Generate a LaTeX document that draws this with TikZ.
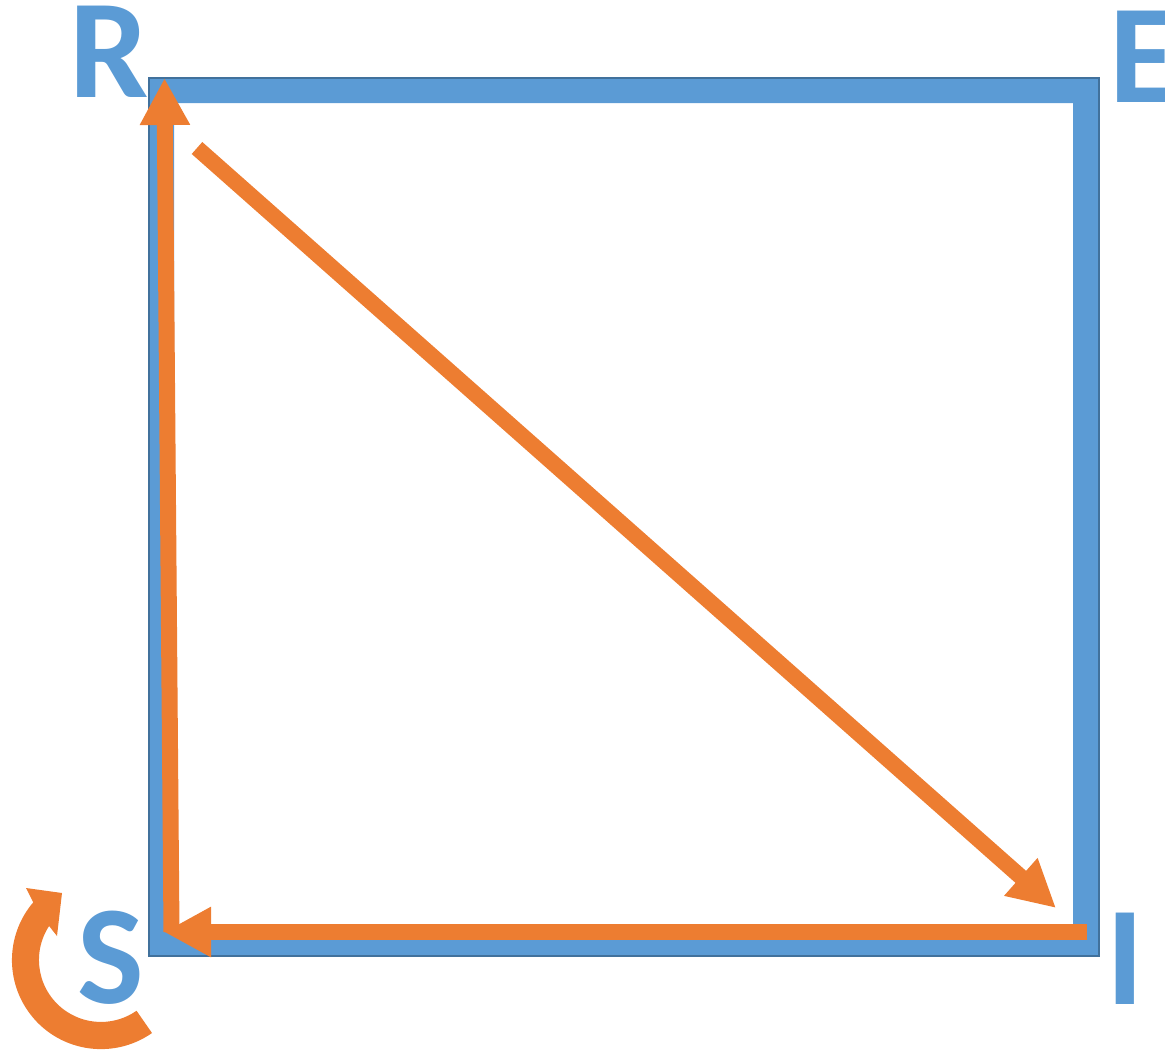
\documentclass[tikz,border=0pt]{standalone}
\usepackage{fontspec}
\setmainfont{Carlito}
\usetikzlibrary{arrows.meta}
\definecolor{frameblue}{HTML}{5B9BD5}
\definecolor{frameedge}{HTML}{41719C}
\definecolor{arroworange}{HTML}{ED7D31}
\tikzset{
  letter/.style={text=frameblue, font=\fontsize{141}{141}\selectfont\bfseries, inner sep=0pt},
  flow/.style={draw=arroworange, line width=16pt, -{Triangle[length=47pt,width=47pt]}},
}
\begin{document}
\begin{tikzpicture}[x=1pt,y=1pt,yscale=-1]
\useasboundingbox (0,0) rectangle (1165,1053);
% frame
\path[fill=frameblue, even odd rule] (149,78) rectangle (1099,956) (174,103) rectangle (1073,931);
\draw[frameedge, line width=1.2pt] (149,78) rectangle (1099,956);
% connector end points
\coordinate (sbot) at (171.5,932);
\coordinate (rtip) at (164.5,78);
\coordinate (dstart) at (197,148);
\coordinate (itip) at (1056,908);
\coordinate (hstart) at (1087,932);
\coordinate (stip) at (164,932);
% arrows
\draw[flow] (sbot) -- (rtip);
\draw[flow] (hstart) -- (stip);
\draw[flow] (dstart) -- (itip);
% circular arrow around S
\fill[arroworange] (152,1033) arc[start angle=55, end angle=220.5, radius=89]
  -- (26,888) -- (62,893) -- (57,936) -- (49.1,926)
  arc[start angle=213.2, end angle=55, radius=62] -- cycle;
% letters
\node[letter, anchor=base] (R) at (109,97.5) {R};
\node[letter, anchor=base west] (E) at (1109,102.5) {E};
\node[letter, anchor=base] (S) at (111,1003) {S};
\node[letter, anchor=base] (I) at (1125.5,1004) {I};
\end{tikzpicture}
\end{document}
